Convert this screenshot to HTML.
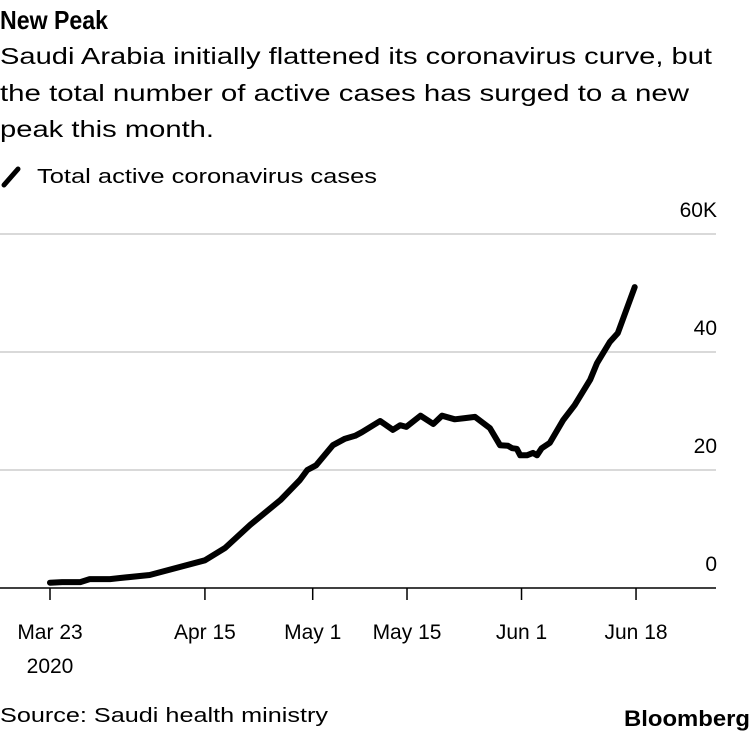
<!DOCTYPE html>
<html><head><meta charset="utf-8"><style>
html,body{margin:0;padding:0;background:#fff;}
svg{display:block;font-family:"Liberation Sans",sans-serif;}
</style></head><body>
<svg id="chart" width="750" height="732" viewBox="0 0 750 732">
<text x="0" y="29" font-size="26" font-weight="bold" textLength="108" lengthAdjust="spacingAndGlyphs">New Peak</text>
<g font-size="23" fill="#000">
<text x="0" y="64" textLength="712" lengthAdjust="spacingAndGlyphs">Saudi Arabia initially flattened its coronavirus curve, but</text>
<text x="0" y="101" textLength="689" lengthAdjust="spacingAndGlyphs">the total number of active cases has surged to a new</text>
<text x="0" y="137" textLength="214" lengthAdjust="spacingAndGlyphs">peak this month.</text>
</g>
<g>
<line x1="4" y1="185" x2="18" y2="169" stroke="#000" stroke-width="5" stroke-linecap="round"/>
<text x="37" y="183" font-size="20" textLength="340" lengthAdjust="spacingAndGlyphs">Total active coronavirus cases</text>
</g>
<g id="grid"></g>
<g id="yticks" font-size="21" text-anchor="end"></g>
<g id="xticks" font-size="21" text-anchor="middle"></g>
<path id="line" fill="none" stroke="#000" stroke-width="6" stroke-linejoin="round" stroke-linecap="round"/>
<text x="0" y="722" font-size="20" textLength="328" lengthAdjust="spacingAndGlyphs">Source: Saudi health ministry</text>
<text x="750" y="726" font-size="22" font-weight="bold" text-anchor="end" textLength="126" lengthAdjust="spacingAndGlyphs">Bloomberg</text>
</svg>
<script>
const days=[0,1.8,4.5,5.9,8.9,10.4,14.8,23.0,26.0,29.7,34.2,37.1,38.2,39.5,42.0,43.8,45.3,46.3,49.0,50.9,52.0,52.9,55.0,56.9,58.2,60.1,61.6,63.1,65.3,66.8,68.0,68.6,69.3,69.8,70.8,71.7,72.3,73.0,74.2,76.2,77.9,80.2,81.2,83.1,84.3,86.8];
const activeK=[0.9,1.0,1.0,1.5,1.5,1.7,2.2,4.7,6.8,10.7,14.9,18.3,20,20.8,24.2,25.3,25.8,26.4,28.3,26.8,27.6,27.3,29.2,27.8,29.2,28.6,28.8,29.0,27.1,24.2,24.1,23.7,23.6,22.5,22.5,22.9,22.5,23.7,24.6,28.5,31,35.3,38.1,41.7,43.2,51.0];
const yTicks=[0,20,40,60];
const yTickLabels=["0","20","40","60K"];
const xTickDays=[0,23,39,53,70,87];
const xTickLabels=["Mar 23","Apr 15","May 1","May 15","Jun 1","Jun 18"];
</script>
<script>
const NS="http://www.w3.org/2000/svg";
const X=d=>50+d*6.736, Y=v=>588-v*5.9;
const grid=document.getElementById('grid'),yt=document.getElementById('yticks'),xt=document.getElementById('xticks');
yTicks.forEach((v,i)=>{
  const l=document.createElementNS(NS,'line');
  
  
  l.setAttribute('x1',0);l.setAttribute('x2',716);l.setAttribute('y1',Y(v));l.setAttribute('y2',Y(v));
  l.setAttribute('stroke',v===0?'#000':'#d9d9d9');l.setAttribute('stroke-width',v===0?1.5:2);
  grid.appendChild(l);
  const t=document.createElementNS(NS,'text');
  
  
  t.setAttribute('x',717);t.setAttribute('y',Y(v)-17);t.textContent=yTickLabels[i];
  yt.appendChild(t);
});
xTickDays.forEach((d,i)=>{
  const l=document.createElementNS(NS,'line');
  
  
  l.setAttribute('x1',X(d));l.setAttribute('x2',X(d));l.setAttribute('y1',588);l.setAttribute('y2',600);
  l.setAttribute('stroke','#000');l.setAttribute('stroke-width',1.5);
  xt.appendChild(l);
  const t=document.createElementNS(NS,'text');
  
  
  t.setAttribute('x',X(d));t.setAttribute('y',639);t.textContent=xTickLabels[i];
  xt.appendChild(t);
});
const yr=document.createElementNS(NS,'text');


yr.setAttribute('x',X(0));yr.setAttribute('y',673);yr.textContent='2020';
xt.appendChild(yr);
const n=Math.min(days.length,activeK.length);
let dstr='';
for(let i=0;i<n;i++){dstr+=(i?'L':'M')+X(days[i]).toFixed(1)+','+Y(activeK[i]).toFixed(1);}
document.getElementById('line').setAttribute('d',dstr);
</script>
</body></html>
